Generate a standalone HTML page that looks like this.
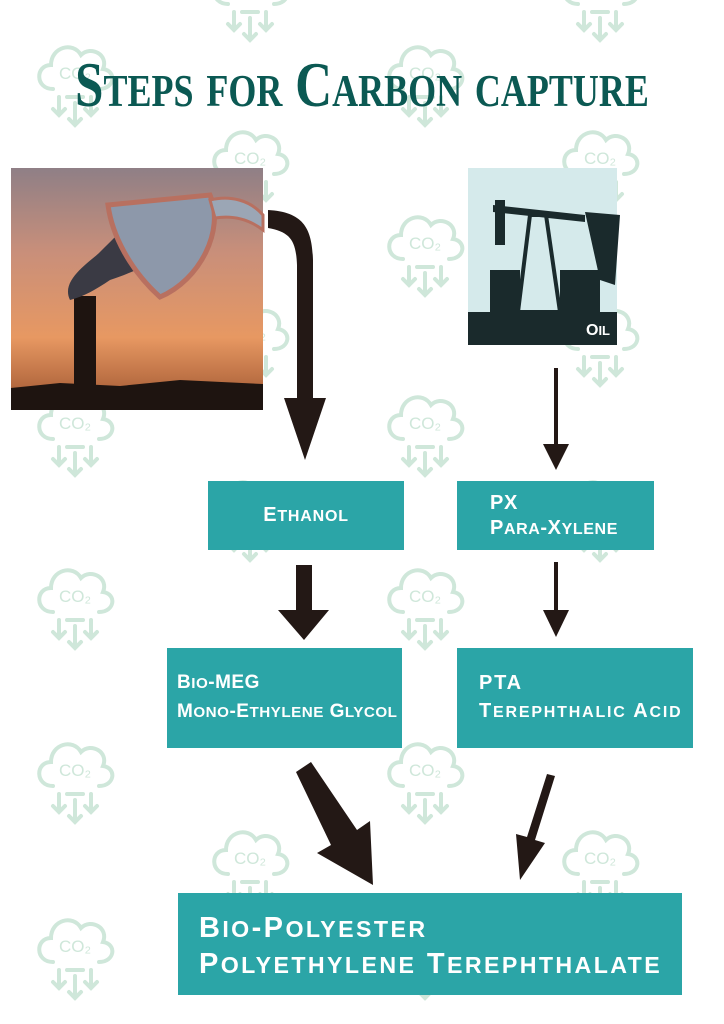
<!DOCTYPE html>
<html><head><meta charset="utf-8"><style>
html,body{margin:0;background:#fff;overflow:hidden;width:724px;height:1024px;}
#c{position:relative;width:724px;height:1024px;overflow:hidden;background:#fff;}
.t{position:absolute;left:0;top:48px;width:724px;text-align:center;white-space:nowrap;font-family:"Liberation Serif",serif;font-weight:bold;font-variant:small-caps;font-size:64px;color:#0b5953;transform:scaleX(0.8);transform-origin:362px 0;}
.b{position:absolute;background:#2ba5a7;color:#fff;font-family:"Liberation Sans",sans-serif;font-weight:bold;box-sizing:border-box;white-space:nowrap;overflow:hidden;}
.s{font-size:80%;}
</style></head><body><div id="c">
<svg width="724" height="1024" style="position:absolute;left:0;top:0">
<defs>
<g id="ic" fill="none" stroke="#cfe7da" stroke-width="4" stroke-linecap="round">
<path d="M-22,4 C-40,4 -40,-20 -24,-20 C-24,-38 -2,-44 6,-30 C16,-40 34,-30 28,-16 C42,-14 40,4 24,4"/>
<path d="M-16,12 V30 M-22,24 L-16,30 L-10,24 M16,12 V30 M10,24 L16,30 L22,24 M0,18 V40 M-6,34 L0,40 L6,34 M-8,12 H8"/>
</g>
</defs>
<g>
<use href="#ic" x="250" y="0"/><use href="#ic" x="600" y="0"/>
<use href="#ic" x="75" y="85"/><use href="#ic" x="425" y="85"/>
<use href="#ic" x="250" y="170"/><use href="#ic" x="600" y="170"/>
<use href="#ic" x="75" y="255"/><use href="#ic" x="425" y="255"/>
<use href="#ic" x="250" y="345"/><use href="#ic" x="600" y="345"/>
<use href="#ic" x="75" y="435"/><use href="#ic" x="425" y="435"/>
<use href="#ic" x="250" y="520"/><use href="#ic" x="600" y="520"/>
<use href="#ic" x="75" y="608"/><use href="#ic" x="425" y="608"/>
<use href="#ic" x="250" y="695"/><use href="#ic" x="600" y="695"/>
<use href="#ic" x="75" y="782"/><use href="#ic" x="425" y="782"/>
<use href="#ic" x="250" y="870"/><use href="#ic" x="600" y="870"/>
<use href="#ic" x="75" y="958"/><use href="#ic" x="425" y="958"/>
</g>
<g font-family="Liberation Sans,sans-serif" font-size="17" fill="#cfe7da" text-anchor="middle">
<text x="75" y="79">CO₂</text><text x="425" y="79">CO₂</text>
<text x="250" y="164">CO₂</text><text x="600" y="164">CO₂</text>
<text x="75" y="249">CO₂</text><text x="425" y="249">CO₂</text>
<text x="250" y="339">CO₂</text><text x="600" y="339">CO₂</text>
<text x="75" y="429">CO₂</text><text x="425" y="429">CO₂</text>
<text x="250" y="514">CO₂</text><text x="600" y="514">CO₂</text>
<text x="75" y="602">CO₂</text><text x="425" y="602">CO₂</text>
<text x="250" y="689">CO₂</text><text x="600" y="689">CO₂</text>
<text x="75" y="776">CO₂</text><text x="425" y="776">CO₂</text>
<text x="250" y="864">CO₂</text><text x="600" y="864">CO₂</text>
<text x="75" y="952">CO₂</text><text x="425" y="952">CO₂</text>
</g>
<defs><linearGradient id="sky" x1="0" y1="0" x2="0" y2="1">
<stop offset="0" stop-color="#8f7f86"/><stop offset="0.35" stop-color="#c98f7a"/><stop offset="0.7" stop-color="#e79862"/><stop offset="0.9" stop-color="#b56a40"/><stop offset="1" stop-color="#2a1a14"/></linearGradient></defs>
<rect x="11" y="168" width="252" height="242" fill="url(#sky)"/>
<path d="M11,388 L60,383 L120,386 L180,380 L263,384 L263,410 L11,410Z" fill="#1e1410"/>
<rect x="74" y="296" width="22" height="100" fill="#1e1410"/>
<path d="M70,300 C60,280 90,262 100,252 C120,232 140,210 170,205 L180,250 C160,258 140,270 110,280 C95,290 85,296 70,300Z" fill="#3a3a44"/>
<path d="M108,205 L210,195 C225,230 200,280 160,297 C130,270 112,235 108,205Z" fill="#8d98aa" stroke="#b87060" stroke-width="5"/>
<path d="M210,200 C230,195 250,200 263,215 L263,230 C250,220 235,215 215,218Z" fill="#9ba6b5" stroke="#b87060" stroke-width="3"/>
<rect x="468" y="168" width="149" height="177" fill="#d5eaeb"/>
<rect x="468" y="312" width="149" height="33" fill="#1a2a2c"/>
<path d="M493,205 L585,215 L585,222 L493,212Z" fill="#1a2a2c"/>
<path d="M530,215 L518,312 L560,312 L546,215Z" fill="none" stroke="#1a2a2c" stroke-width="4"/>
<path d="M585,212 L620,215 L615,285 L600,280Z M495,200 L505,200 L505,245 L495,245Z M490,270 H520 V312 H490Z M560,270 H600 V312 H560Z" fill="#1a2a2c"/>
<text x="598" y="335" font-family="Liberation Sans,sans-serif" font-weight="bold" font-size="16" fill="#fff" text-anchor="middle">O<tspan font-size="13">IL</tspan></text>
<g fill="#231815">
<path d="M268,210 C305,212 312,230 313,260 L313,398 L326,398 L305,460 L284,398 L297,398 L297,265 C296,240 290,232 268,228Z"/>
<rect x="554" y="368" width="4" height="78"/><path d="M543,444 L569,444 L556,470Z"/>
<rect x="296" y="565" width="16" height="47"/><path d="M278,610 L329,610 L304,640Z"/>
<rect x="554" y="562" width="4" height="50"/><path d="M543,610 L569,610 L556,637Z"/>
<path d="M296,772 L311,762 L357,830 L370,821 L373,885 L317,853 L331,845Z"/>
<path d="M547,774 L555,776 L535,840 L545,843 L520,880 L516,834 L527,837Z"/>
</g>
</svg>
<div class="t">Steps for Carbon capture</div>
<div class="b" style="left:208px;top:481px;width:196px;height:69px;font-size:20px;letter-spacing:0.8px;text-align:center;line-height:69px">E<span class="s">THANOL</span></div>
<div class="b" style="left:457px;top:481px;width:197px;height:69px;font-size:20px;letter-spacing:0.6px;padding:10px 0 0 33px;line-height:25px">PX<br>P<span class="s">ARA</span>-X<span class="s">YLENE</span></div>
<div class="b" style="left:167px;top:648px;width:235px;height:100px;font-size:19px;letter-spacing:0.5px;padding:21px 0 0 10px;line-height:28px">B<span class="s">IO</span>-MEG<br>M<span class="s">ONO</span>-E<span class="s">THYLENE</span> G<span class="s">LYCOL</span></div>
<div class="b" style="left:457px;top:648px;width:236px;height:100px;font-size:20px;letter-spacing:1.8px;padding:21px 0 0 22px;line-height:28px">PTA<br>T<span class="s">EREPHTHALIC</span> A<span class="s">CID</span></div>
<div class="b" style="left:178px;top:893px;width:504px;height:102px;font-size:29px;letter-spacing:2.4px;padding:18px 0 0 21px;line-height:35px">B<span class="s">IO</span>-P<span class="s">OLYESTER</span><br>P<span class="s">OLYETHYLENE</span> T<span class="s">EREPHTHALATE</span></div>
</div></body></html>
